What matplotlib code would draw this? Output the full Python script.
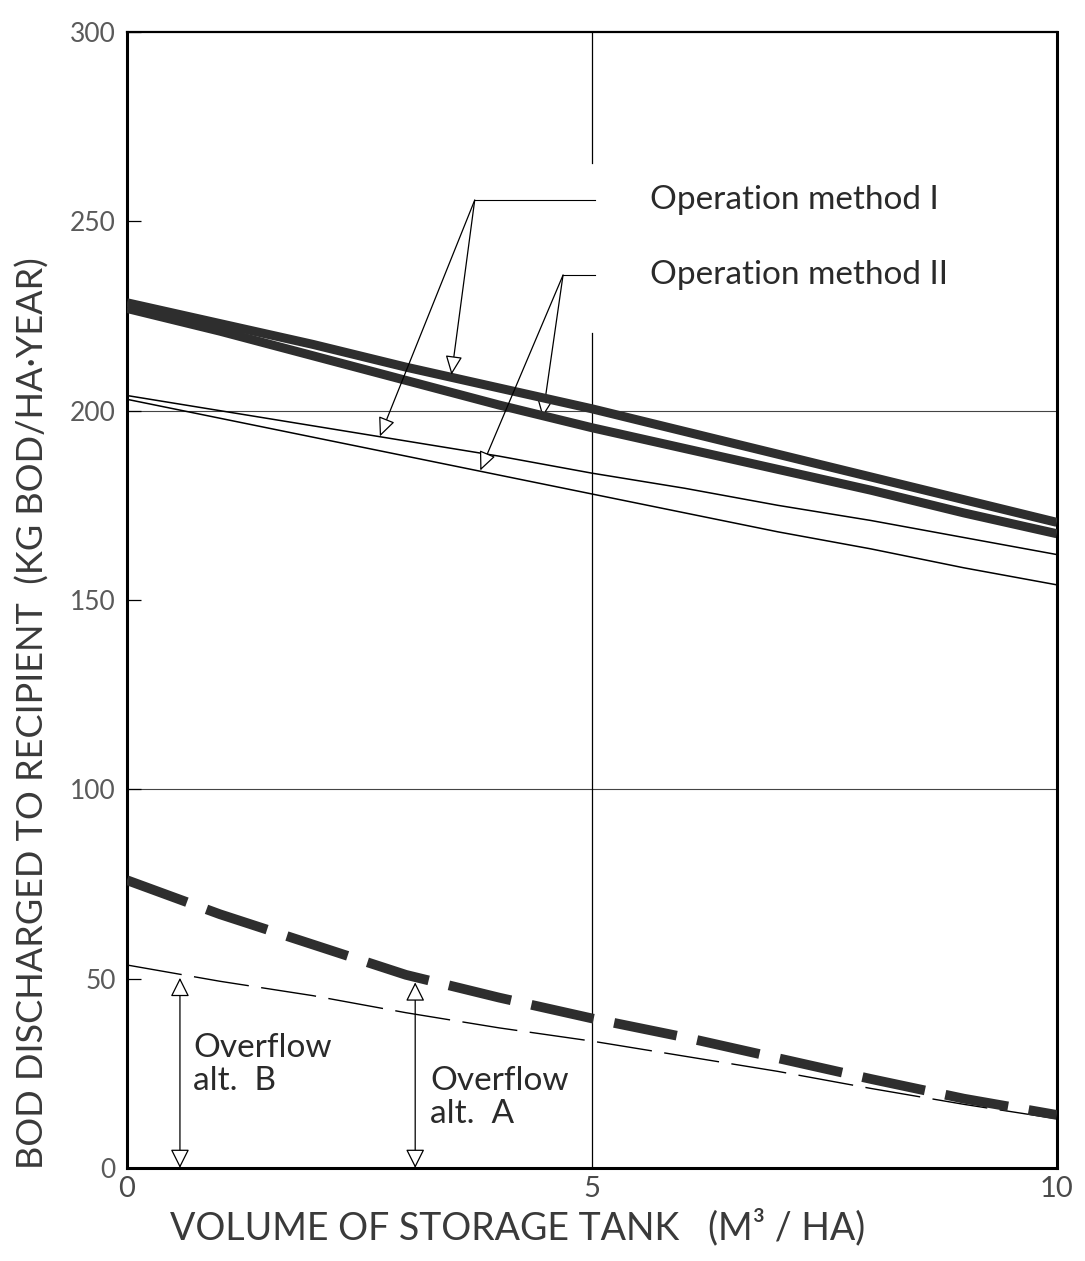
import numpy as np
import matplotlib.pyplot as plt

plt.rcParams['font.family'] = ['Lato', 'DejaVu Sans']
plt.rcParams['lines.scale_dashes'] = False

# volume of storage tank (m3/ha)
volume = [0, 1, 2, 3, 4, 5, 6, 7, 8, 9, 10]

# BOD discharged (kg BOD / ha year)
method1_thick = [228.5, 223, 217.5, 211.5, 206, 200.5, 194.5, 188.5, 182.5, 176.5, 170.5]
method2_thick = [227, 221, 214.5, 208, 201.5, 195.5, 190, 184.5, 179, 173, 167.5]
method1_thin = [204, 200, 196, 192, 188, 183.5, 179.5, 175, 171, 166.5, 162]
method2_thin = [203, 198, 193, 188, 183, 178, 173, 168, 163.5, 158.5, 154]
overflow_a = [76, 67, 59, 51, 45, 39.5, 34.5, 29, 23.5, 18.3, 14]
overflow_b = [53.6, 49.3, 45.5, 41, 37, 33.5, 29.5, 25.5, 21, 16.8, 13]

yticks = [0, 50, 100, 150, 200, 250, 300]
xticks = [0, 5, 10]

fig = plt.figure(figsize=(10.85, 12.61), dpi=100)
ax = fig.add_axes([0.117, 0.0738, 0.857, 0.9008])

thick_col = '#2e2e2e'
txt_col = '#2a2a2a'
ax.plot(volume, method1_thick, color=thick_col, lw=6.5, solid_capstyle='butt', zorder=3)
ax.plot(volume, method2_thick, color=thick_col, lw=6.5, solid_capstyle='butt', zorder=3)
ax.plot(volume, method1_thin, color='black', lw=1.1, zorder=3)
ax.plot(volume, method2_thin, color='black', lw=1.1, zorder=3)
ax.plot(volume, overflow_a, color=thick_col, lw=7, ls=(0, (46, 15)), zorder=3)
ax.plot(volume, overflow_b, color='black', lw=1.0, ls=(0, (40, 9)), zorder=2.5)

# grid bits
ax.axhline(100, color='#444444', lw=0.8, zorder=1)
ax.axhline(200, color='#444444', lw=0.8, zorder=1)
ax.plot([5, 5], [300, 265.5], color='black', lw=0.9, zorder=1)
ax.plot([5, 5], [220.5, 0], color='black', lw=0.9, zorder=1)

# leaders
head = dict(arrowstyle='-|>,head_length=0.9,head_width=0.4', mutation_scale=13,
            fc='white', ec='black', lw=0.9, shrinkA=0, shrinkB=0)
ax.plot([3.74, 5.03], [255.6, 255.6], color='black', lw=0.8)
ax.annotate('', xy=(3.49, 209.5), xytext=(3.74, 255.6), arrowprops=head, zorder=4)
ax.annotate('', xy=(2.72, 193.2), xytext=(3.74, 255.6), arrowprops=head, zorder=4)
ax.plot([4.69, 5.03], [235.8, 235.8], color='black', lw=0.8)
ax.annotate('', xy=(4.47, 198.3), xytext=(4.69, 235.8), arrowprops=head, zorder=2)
ax.annotate('', xy=(3.8, 184.2), xytext=(4.69, 235.8), arrowprops=head, zorder=4)

ax.text(5.62, 255.6, 'Operation method I', fontsize=24, color=txt_col, va='center')
ax.text(5.62, 235.8, 'Operation method II', fontsize=24, color=txt_col, va='center')

both = dict(arrowstyle='<|-|>,head_length=0.9,head_width=0.45', mutation_scale=13,
            fc='white', ec='black', lw=0.9, shrinkA=0, shrinkB=0)
ax.annotate('', xy=(0.57, 50.2), xytext=(0.57, 0), arrowprops=both, zorder=4)
ax.annotate('', xy=(3.1, 49), xytext=(3.1, 0), arrowprops=both, zorder=4)
ax.text(0.71, 27.3, 'Overflow\nalt.  B', fontsize=24, color=txt_col, va='center',
        linespacing=1.15)
ax.text(3.26, 18.6, 'Overflow\nalt.  A', fontsize=24, color=txt_col, va='center',
        linespacing=1.15)

ax.set_xlim(0, 10)
ax.set_ylim(0, 300)
ax.set_yticks(yticks)
ax.set_xticks(xticks)
ax.tick_params(axis='y', direction='in', length=10, width=0.9, pad=8,
               labelsize=19, labelcolor='#5a5a5a')
ax.tick_params(axis='x', length=0, pad=6, labelsize=21, labelcolor='#4a4a4a')
for side in ['left', 'bottom', 'right']:
    ax.spines[side].set_linewidth(2.2)
ax.spines['top'].set_linewidth(1.6)

fig.text(0.0304, 0.4346, 'BOD DISCHARGED TO RECIPIENT  (KG BOD/HA·YEAR)', rotation=90,
         ha='center', va='center', fontsize=26, color='#3a3a3a')
fig.text(0.4767, 0.027, 'VOLUME OF STORAGE TANK   (M³ / HA)', ha='center', va='center',
         fontsize=27, color='#3a3a3a')

fig.savefig('out.png', dpi=100)
